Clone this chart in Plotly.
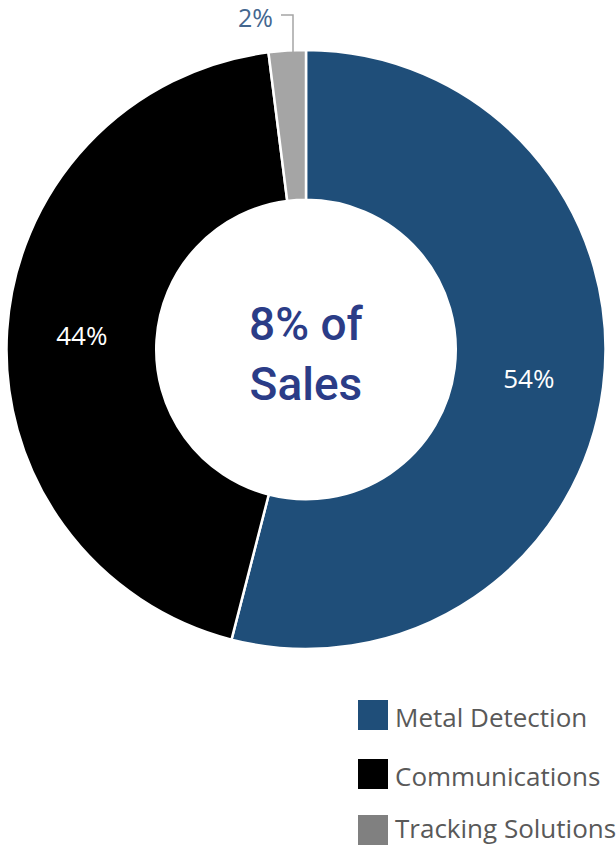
import plotly.graph_objects as go

labels = ["Metal Detection", "Communications", "Tracking Solutions"]
values = [54, 44, 2]
slice_colors = ["#1F4E79", "#000000", "#A5A5A5"]
legend_colors = ["#1F4E79", "#000000", "#808080"]
center_text = "8% of<br>Sales"

W, H = 616, 846

fig = go.Figure()
fig.add_trace(go.Pie(
    labels=labels, values=values, sort=False, direction="clockwise", rotation=0,
    hole=0.5,
    marker=dict(colors=slice_colors, line=dict(color="white", width=2.5)),
    texttemplate=["%{value}%", "%{value}%", ""],
    textposition=["inside", "inside", "none"],
    insidetextorientation="horizontal",
    textfont=dict(color="white", size=26, family="Open Sans"),
    showlegend=False,
    hoverinfo="label+percent",
    domain=dict(x=[5 / W, 607 / W], y=[(H - 649) / H, (H - 50) / H]),
))

def px(x):
    return x / W

def py(y):
    return 1 - y / H

annotations = [
    dict(text=center_text, x=px(306), y=py(354), xref="paper", yref="paper",
         showarrow=False, font=dict(size=46, color="#2B3C87", family="Roboto", weight=500),
         xanchor="center", yanchor="middle"),
    dict(text=f"{values[2]}%", x=px(275), y=py(17), xref="paper", yref="paper",
         showarrow=False, font=dict(size=25, color="#44678F", family="Open Sans"),
         xanchor="right", yanchor="middle"),
]
shapes = [
    dict(type="path", xref="paper", yref="paper",
         path=f"M {px(281)} {py(15)} L {px(293)} {py(15)} L {px(293)} {py(53)}",
         line=dict(color="#A5A5A5", width=1.5)),
]

legend_rows = [715, 774, 830]
legend_text_y = [717, 776, 828]
for lab, col, yc, ty in zip(labels, legend_colors, legend_rows, legend_text_y):
    shapes.append(dict(type="rect", xref="paper", yref="paper",
                       x0=px(358), x1=px(388), y0=py(yc - 15), y1=py(yc + 15),
                       fillcolor=col, line=dict(width=0)))
    annotations.append(dict(text=lab, x=px(393), y=py(ty), xref="paper", yref="paper",
                            showarrow=False, xanchor="left", yanchor="middle",
                            font=dict(size=26, color="#595959", family="Open Sans")))

fig.update_layout(
    width=W, height=H,
    margin=dict(l=0, r=0, t=0, b=0),
    paper_bgcolor="white", plot_bgcolor="white",
    annotations=annotations, shapes=shapes,
)

fig.write_html("out.html", config={"displayModeBar": False},
               post_script="document.body.style.margin='0';")
